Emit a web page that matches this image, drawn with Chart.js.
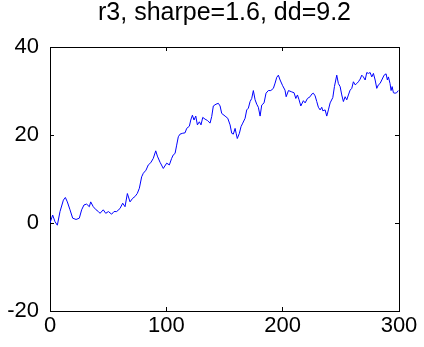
<!DOCTYPE html>
<html>
<head>
<meta charset="utf-8">
<script src="https://cdn.jsdelivr.net/npm/chart.js@4"></script>
<style>
html,body{margin:0;padding:0;background:#fff;}
#wrap{width:424px;height:347px;}
</style>
</head>
<body>
<div id="wrap"><canvas id="c" width="424" height="347"></canvas></div>
<script>
const titleText = "r3, sharpe=1.6, dd=9.2";
const xTicks = [0, 100, 200, 300];
const yTicks = [-20, 0, 20, 40];
const xValues = [0, 2.3, 4.3, 6.3, 8.6, 11.5, 13.2, 14.9, 17.2, 19.5,
  22.4, 25.2, 27.2, 29.2, 31.5, 33.8, 35, 37.2, 39.6, 41.6,
  43, 45.8, 47.9, 50.2, 53, 55, 57.3, 60.2, 62.5, 64.5,
  66.5, 68.8, 71, 73, 75, 76.8, 78.8, 80.2, 82.5, 84.5,
  86.6, 88.8, 90.9, 92.3, 94.6, 97.4, 100.3, 102.6, 104.6, 106,
  107.5, 108.9, 110.3, 111.8, 114.1, 116.1, 117.5, 119.8, 121, 122.4,
  123.8, 125.3, 126.7, 128.4, 129.8, 131.3, 133.3, 135.3, 137.6, 139,
  140.4, 142.7, 144.7, 146.2, 147.6, 150.5, 152.8, 154.8, 156.2, 157.6,
  159.1, 160, 161, 162.8, 164.2, 165.7, 167.7, 169.1, 170.5, 172,
  173.4, 174.8, 176.3, 177.7, 179.1, 180.6, 182, 184, 185.7, 187.7,
  189.8, 192, 193.5, 194.9, 196.3, 197.8, 200, 202, 203, 205,
  207.8, 209.8, 211.3, 212.7, 214.1, 215.6, 217.8, 219.3, 221.3, 223.6,
  225, 226.4, 227.9, 229.3, 230.7, 232.2, 233.6, 234.5, 236.5, 237.9,
  239.3, 240.8, 243.1, 244.5, 246.5, 247.9, 249.4, 250.8, 252.2, 253.7,
  255.1, 256.5, 258, 259.4, 260.8, 262.3, 263.7, 265.1, 266.6, 268,
  269.4, 270.9, 272.3, 273.7, 275.2, 276.6, 278, 279.5, 280.9, 282.3,
  283.7, 285.2, 287.2, 288.9, 290, 290.9, 292.3, 293.2, 294.1, 295.2,
  296.6, 298, 299.4];
const yValues = [0, 1.8, 0.3, -0.5, 2.6, 5.2, 5.8, 4.8, 3.0, 1.1,
  0.8, 1.1, 3.0, 4.1, 4.3, 3.7, 4.8, 3.7, 3.0, 2.6,
  2.2, 3.0, 2.2, 2.6, 2.0, 2.6, 2.6, 3.3, 4.5, 3.7,
  6.7, 4.8, 5.6, 6.0, 6.7, 7.9, 10.5, 11.3, 12, 13.2,
  13.7, 14.7, 16.4, 15.2, 13.8, 12.4, 13.6, 13.2, 14.7, 15.5,
  15.8, 17.7, 19.6, 20.2, 20.4, 20.5, 21.5, 22, 23.4, 24.5,
  23.4, 24.3, 22.3, 23, 22.3, 24, 23.6, 23.3, 22.7, 24.2,
  26.6, 27, 27.2, 26.6, 24.9, 24.3, 23.8, 22.3, 20.4, 20.2,
  21.5, 20.4, 19.2, 20.4, 21.9, 22.7, 23.8, 25.7, 26.1, 27.6,
  28.3, 30.1, 28, 27, 26.3, 24.3, 26.8, 27.3, 29.5, 30.1,
  30.1, 30.6, 31.8, 33.1, 33.6, 32.5, 31.2, 30.2, 28.7, 30.1,
  29.8, 29.6, 28.3, 29.1, 28, 26.6, 27.8, 27.3, 28.3, 28.7,
  29.3, 29.5, 28.9, 27.6, 26.3, 25.7, 26.3, 25.5, 25.7, 24.3,
  25.7, 27.3, 28.5, 31, 33.6, 31.7, 31, 29.1, 27.6, 28.7,
  28, 29.1, 30.2, 30.6, 32.1, 31.4, 31.7, 32.1, 32.7, 33.6,
  33.2, 32.5, 34.2, 34, 34.2, 33.2, 34, 32.5, 30.6, 31.4,
  31.7, 32.5, 33.6, 33.9, 32.5, 33.2, 31.7, 30.1, 31, 29.6,
  29.5, 29.6, 30.1];

const points = xValues.map((x, i) => ({x: x, y: yValues[i]}));

const FONT = 'Liberation Sans, Arial, sans-serif';
const inwardGrid = {display: true, drawOnChartArea: false, drawTicks: true,
  tickLength: -4, color: '#000', lineWidth: 1};
const boxBorder = {display: true, color: '#000', width: 1};

new Chart(document.getElementById('c'), {
  type: 'line',
  data: {
    datasets: [{
      data: points,
      borderColor: '#0000ff',
      borderWidth: 1,
      pointRadius: 0,
      tension: 0,
      fill: false
    }]
  },
  options: {
    responsive: false,
    animation: false,
    layout: {padding: {left: 0, right: -25, top: 0, bottom: 0}},
    plugins: {
      legend: {display: false},
      tooltip: {enabled: false},
      title: {
        display: true,
        text: titleText,
        color: '#000',
        font: {family: FONT, size: 25, weight: 'normal'},
        padding: {top: -2, bottom: 19}
      }
    },
    scales: {
      x: {
        type: 'linear',
        position: 'bottom',
        min: 0, max: 300,
        afterBuildTicks: s => { s.ticks = xTicks.map(v => ({value: v})); },
        afterFit: s => { s.height = 36; },
        grid: inwardGrid,
        border: boxBorder,
        ticks: {color: '#000', padding: 6, maxRotation: 0,
          font: {family: FONT, size: 22}}
      },
      xTop: {
        type: 'linear',
        position: 'top',
        min: 0, max: 300,
        afterBuildTicks: s => { s.ticks = xTicks.map(v => ({value: v})); },
        afterFit: s => { s.height = 0; },
        grid: inwardGrid,
        border: boxBorder,
        ticks: {display: false}
      },
      y: {
        position: 'left',
        min: -20, max: 40,
        afterBuildTicks: s => { s.ticks = yTicks.map(v => ({value: v})); },
        afterFit: s => { s.width = 50; },
        grid: inwardGrid,
        border: boxBorder,
        ticks: {color: '#000', padding: 15, autoSkip: false,
          font: {family: FONT, size: 22}}
      },
      yRight: {
        position: 'right',
        min: -20, max: 40,
        afterBuildTicks: s => { s.ticks = yTicks.map(v => ({value: v})); },
        afterFit: s => { s.width = 50; },
        grid: inwardGrid,
        border: boxBorder,
        ticks: {display: false}
      }
    }
  }
});
</script>
</body>
</html>
